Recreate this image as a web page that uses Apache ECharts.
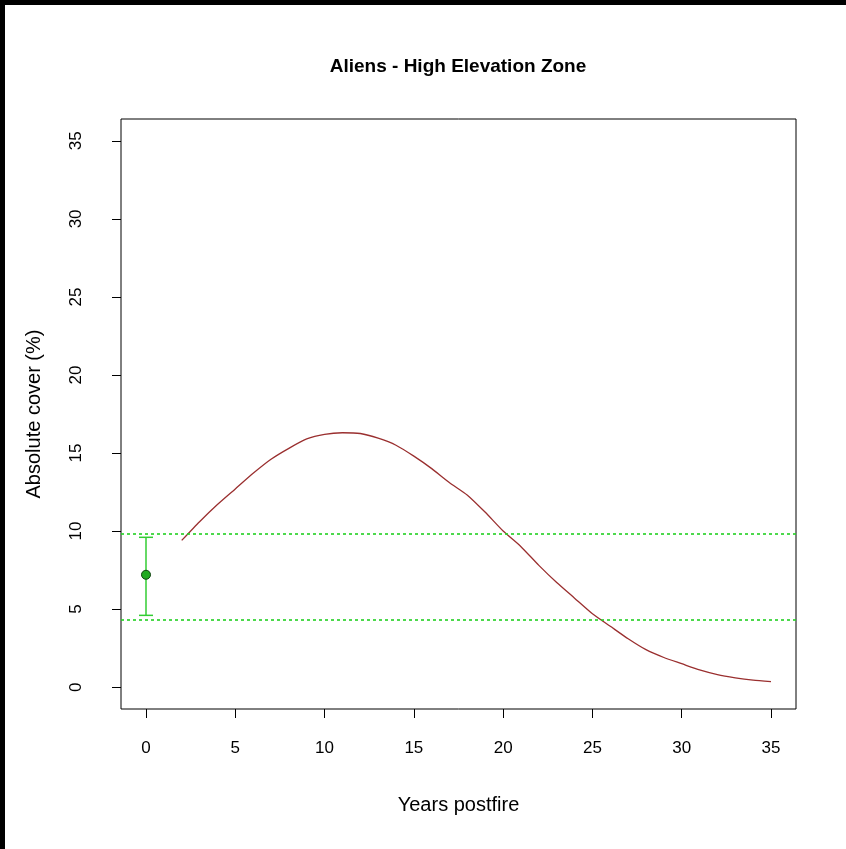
<!DOCTYPE html>
<html>
<head>
<meta charset="utf-8">
<script src="https://cdn.jsdelivr.net/npm/echarts@6/dist/echarts.min.js"></script>
<style>
html,body{margin:0;padding:0;background:#fff;}
#chart{width:846px;height:849px;}
</style>
</head>
<body>
<div id="chart"></div>
<script>
// ---- data ----
var titleText = 'Aliens - High Elevation Zone';
var xAxisTitle = 'Years postfire';
var yAxisTitle = 'Absolute cover (%)';
var xTicks = [0, 5, 10, 15, 20, 25, 30, 35];
var yTicks = [0, 5, 10, 15, 20, 25, 30, 35];
var curveYears = [2,3,4,5,6,7,8,9,10,11,12,13,14,15,16,17,18,19,20,21,22,23,24,25,26,27,28,29,30,31,32,33,34,35];
var curveCover = [9.4,10.6,11.7,12.7,13.7,14.6,15.3,15.9,16.2,16.3,16.25,15.95,15.5,14.8,14.0,13.1,12.3,11.2,10.0,9.0,7.8,6.7,5.7,4.7,3.9,3.1,2.4,1.9,1.5,1.1,0.8,0.6,0.45,0.35];
var pointYear = [0];
var pointMean = [7.2];
var pointLower = [4.6];
var pointUpper = [9.6];
var refLines = [9.85, 4.35];

var chart = echarts.init(document.getElementById('chart'), null, {renderer: 'canvas'});
var font = 'Liberation Sans, Arial, sans-serif';
var curveData = curveYears.map(function (x, i) { return [x, curveCover[i]]; });
var pointData = pointYear.map(function (x, i) { return [x, pointMean[i]]; });
var errData = pointYear.map(function (x, i) { return [x, pointLower[i], pointUpper[i]]; });

chart.setOption({
  animation: false,
  backgroundColor: '#ffffff',
  grid: {left: 121, top: 119, right: 50, bottom: 140, show: true, borderColor: '#000', borderWidth: 1, backgroundColor: 'transparent'},
  graphic: [
    {type: 'rect', shape: {x: 0, y: 0, width: 846, height: 5}, style: {fill: '#000'}, z: 100},
    {type: 'rect', shape: {x: 0, y: 0, width: 5, height: 849}, style: {fill: '#000'}, z: 100},
    {type: 'text', x: 458, y: 67, style: {text: titleText, font: 'bold 19px ' + font, fill: '#000', align: 'center', verticalAlign: 'middle'}}
  ],
  xAxis: {
    type: 'value', min: -1.4, max: 36.4,
    name: xAxisTitle, nameLocation: 'middle', nameGap: 86,
    nameTextStyle: {fontFamily: font, fontSize: 20, color: '#000'},
    axisLine: {show: false, onZero: false},
    splitLine: {show: false},
    axisTick: {show: true, inside: false, length: 9, customValues: xTicks, lineStyle: {color: '#000', width: 1}},
    axisLabel: {show: true, customValues: xTicks, margin: 31, fontFamily: font, fontSize: 17, color: '#000'}
  },
  yAxis: {
    type: 'value', min: -1.4, max: 36.4,
    name: yAxisTitle, nameLocation: 'middle', nameGap: 77,
    nameTextStyle: {fontFamily: font, fontSize: 20, color: '#000'},
    axisLine: {show: false, onZero: false},
    splitLine: {show: false},
    axisTick: {show: true, inside: false, length: 9, customValues: yTicks, lineStyle: {color: '#000', width: 1}},
    axisLabel: {show: true, customValues: yTicks, rotate: 90, margin: 36, fontFamily: font, fontSize: 17, color: '#000'}
  },
  series: [
    {
      type: 'line', data: curveData, showSymbol: false, symbol: 'none', smooth: 0.2,
      lineStyle: {color: '#9a2f2f', width: 1.3},
      markLine: {
        silent: true, symbol: ['none', 'none'], label: {show: false},
        lineStyle: {color: '#22d022', type: [3, 3], width: 1.6, opacity: 1},
        emphasis: {disabled: true},
        data: refLines.map(function (v) { return {yAxis: v}; })
      },
      z: 3
    },
    {
      type: 'custom', data: errData,
      renderItem: function (params, api) {
        var x = api.value(0);
        var lo = api.coord([x, api.value(1)]);
        var hi = api.coord([x, api.value(2)]);
        var w = 7;
        var st = {stroke: '#33cc33', lineWidth: 1.5};
        return {type: 'group', children: [
          {type: 'line', shape: {x1: lo[0], y1: lo[1], x2: hi[0], y2: hi[1]}, style: st},
          {type: 'line', shape: {x1: lo[0] - w, y1: lo[1], x2: lo[0] + w, y2: lo[1]}, style: st},
          {type: 'line', shape: {x1: hi[0] - w, y1: hi[1], x2: hi[0] + w, y2: hi[1]}, style: st}
        ]};
      },
      z: 4
    },
    {
      type: 'scatter', data: pointData, symbol: 'circle', symbolSize: 9,
      itemStyle: {color: '#22aa22', borderColor: '#114411', borderWidth: 1, opacity: 1},
      z: 5
    }
  ]
});
</script>
</body>
</html>
